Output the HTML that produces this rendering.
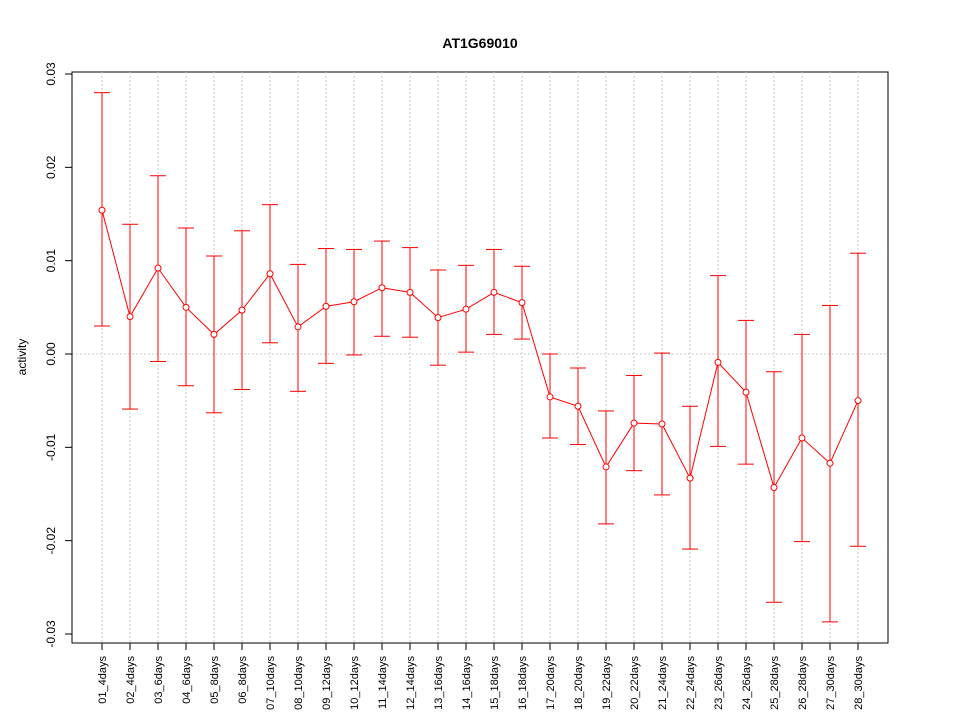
<!DOCTYPE html>
<html><head><meta charset="utf-8"><style>
html,body{margin:0;padding:0;background:#fff;}
svg text{font-family:"Liberation Sans",sans-serif;}
</style></head><body>
<svg id="chart" width="960" height="720" xmlns="http://www.w3.org/2000/svg">
<text x="480" y="48" text-anchor="middle" font-size="14" font-weight="bold">AT1G69010</text>
<text transform="translate(26,357) rotate(-90)" text-anchor="middle" font-size="12">activity</text>
<rect x="72" y="72" width="816" height="571" fill="none" stroke="#000" stroke-width="1"/>
<g id="grid"></g>
<g id="axes"></g>
<g id="marks"></g>
</svg>
<script>
const categories=["01_4days","02_4days","03_6days","04_6days","05_8days","06_8days","07_10days","08_10days","09_12days","10_12days","11_14days","12_14days","13_16days","14_16days","15_18days","16_18days","17_20days","18_20days","19_22days","20_22days","21_24days","22_24days","23_26days","24_26days","25_28days","26_28days","27_30days","28_30days"];
const means=[0.0154,0.0040,0.0092,0.0050,0.0021,0.0047,0.0086,0.0029,0.0051,0.0056,0.0071,0.0066,0.0039,0.0048,0.0066,0.0055,-0.0046,-0.0056,-0.0121,-0.0074,-0.0075,-0.0133,-0.0009,-0.0041,-0.0143,-0.0090,-0.0117,-0.0050];
const uppers=[0.0280,0.0139,0.0191,0.0135,0.0105,0.0132,0.0160,0.0096,0.0113,0.0112,0.0121,0.0114,0.0090,0.0095,0.0112,0.0094,0.0000,-0.0015,-0.0061,-0.0023,0.0001,-0.0056,0.0084,0.0036,-0.0019,0.0021,0.0052,0.0108];
const lowers=[0.0030,-0.0059,-0.0008,-0.0034,-0.0063,-0.0038,0.0012,-0.0040,-0.0010,-0.0001,0.0019,0.0018,-0.0012,0.0002,0.0021,0.0016,-0.0090,-0.0097,-0.0182,-0.0125,-0.0151,-0.0209,-0.0099,-0.0118,-0.0266,-0.0201,-0.0287,-0.0206];
const yTicks=[-0.03,-0.02,-0.01,0.00,0.01,0.02,0.03];
const yTickLabels=["-0.03","-0.02","-0.01","0.00","0.01","0.02","0.03"];

const NS="http://www.w3.org/2000/svg";
function y(v){return 354-v*9333.3;}
function x(i){return 102+i*(756/(categories.length-1));}
function mk(tag,attrs,parent){const e=document.createElementNS(NS,tag);for(const k in attrs)e.setAttribute(k,attrs[k]);parent.appendChild(e);return e;}
const grid=document.getElementById('grid'),axes=document.getElementById('axes'),marks=document.getElementById('marks');

categories.forEach((c,i)=>{
  const g=mk('line',{x1:x(i),x2:x(i),y1:72,y2:643,stroke:'#ccc','stroke-dasharray':'2,2'},grid);
  
  
  const t=mk('line',{x1:x(i),x2:x(i),y1:643,y2:650,stroke:'#000'},axes);
  
  
  const l=mk('text',{transform:`translate(${x(i)+4},656) rotate(-90)`,'text-anchor':'end','font-size':'11'},axes);
  l.textContent=c;
  
  
});
const zl=mk('line',{x1:72,x2:888,y1:y(0),y2:y(0),stroke:'#ccc','stroke-dasharray':'2,2'},grid);


yTicks.forEach((v,i)=>{
  const t=mk('line',{x1:65,x2:72,y1:y(v),y2:y(v),stroke:'#000'},axes);
  
  
  const l=mk('text',{transform:`translate(55,${y(v)}) rotate(-90)`,'text-anchor':'middle','font-size':'12'},axes);
  l.textContent=yTickLabels[i];
  
  
});
mk('line',{x1:72,x2:72,y1:y(-0.03),y2:y(0.03),stroke:'#000'},axes);

means.forEach((m,i)=>{
  const e=mk('line',{x1:x(i),x2:x(i),y1:y(uppers[i]),y2:y(lowers[i]),stroke:'red'},marks);
  
  
  [uppers[i],lowers[i]].forEach(v=>{
    const c=mk('line',{x1:x(i)-8,x2:x(i)+8,y1:y(v),y2:y(v),stroke:'red'},marks);
    
    
  });
});
const pl=mk('polyline',{points:means.map((m,i)=>x(i)+','+y(m)).join(' '),fill:'none',stroke:'red'},marks);


means.forEach((m,i)=>{
  const p=mk('circle',{cx:x(i),cy:y(m),r:3,fill:'#fff',stroke:'red'},marks);
  
  
});
</script>
</body></html>
